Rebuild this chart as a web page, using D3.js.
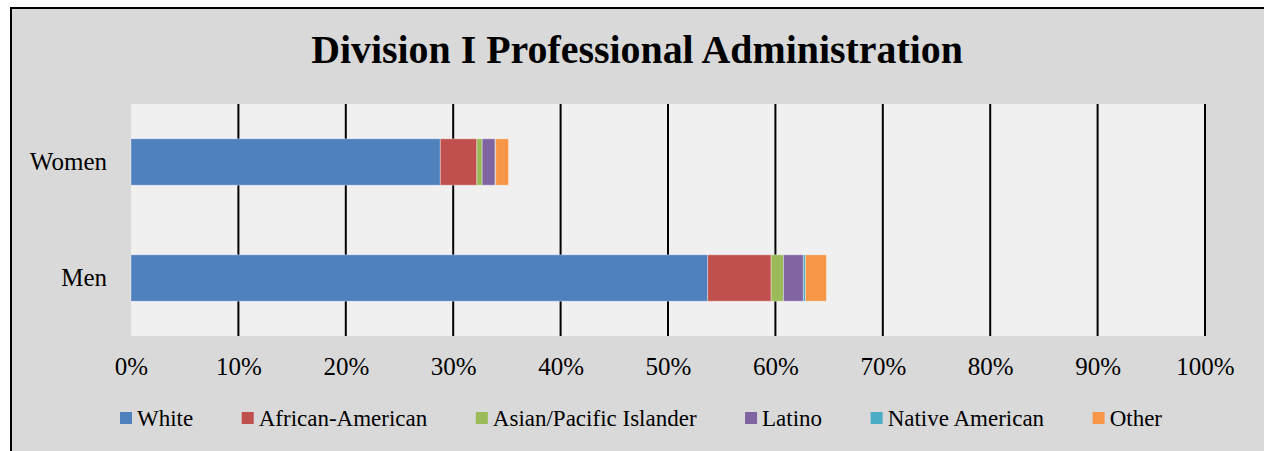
<!DOCTYPE html>
<html><head><meta charset="utf-8">
<script src="https://cdn.jsdelivr.net/npm/d3@7"></script>
<style>html,body{margin:0;padding:0;background:#fff;}svg{display:block;}</style>
</head><body>
<svg id="chart" width="1264" height="451"></svg>
<script>
const categories = ["Women", "Men"];
const seriesNames = ["White", "African-American", "Asian/Pacific Islander", "Latino", "Native American", "Other"];
const colors = ["#4F81BD", "#C0504D", "#9BBB59", "#8064A2", "#4BACC6", "#F79646"];
const white = [28.8, 53.7];
const africanAmerican = [3.4, 5.9];
const asianPacific = [0.5, 1.15];
const latino = [1.2, 1.85];
const nativeAmerican = [0.05, 0.2];
const other = [1.2, 1.95];
const tickValues = [0, 10, 20, 30, 40, 50, 60, 70, 80, 90, 100];
const title = "Division I Professional Administration";

const seriesValues = [white, africanAmerican, asianPacific, latino, nativeAmerican, other];
const rows = categories.map((c, i) => {
  const r = {category: c};
  seriesNames.forEach((s, j) => r[s] = seriesValues[j][i]);
  return r;
});
const stacked = d3.stack().keys(seriesNames)(rows);

const svg = d3.select("#chart");
const W = 1264, H = 451;
const serif = "'Liberation Serif', 'Times New Roman', serif";

// background
svg.append("rect").attr("x", 0).attr("y", 0).attr("width", W).attr("height", H).attr("fill", "#fff");
svg.append("rect").attr("x", 11).attr("y", 8).attr("width", W - 11).attr("height", H - 8).attr("fill", "#D9D9D9");
svg.append("line").attr("x1", 11).attr("x2", 11).attr("y1", 7).attr("y2", H).attr("stroke", "#000").attr("stroke-width", 2);
svg.append("line").attr("x1", 10).attr("x2", W).attr("y1", 8).attr("y2", 8).attr("stroke", "#000").attr("stroke-width", 2);

const plot = {left: 131, right: 1205, top: 104, bottom: 336};
const x = d3.scaleLinear().domain([0, 100]).range([plot.left, plot.right]);
const y = d3.scaleBand().domain(categories).range([plot.top, plot.bottom]).paddingInner(0.6).paddingOuter(0.3);

svg.append("rect").attr("x", plot.left).attr("y", plot.top)
  .attr("width", plot.right - plot.left).attr("height", plot.bottom - plot.top).attr("fill", "#F0F0F0");

// gridlines
svg.append("g").selectAll("line").data(tickValues.filter(t => t > 0)).join("line")
  .attr("x1", d => x(d)).attr("x2", d => x(d))
  .attr("y1", plot.top).attr("y2", plot.bottom)
  .attr("stroke", "#000").attr("stroke-width", 2);

// bars
svg.append("g").selectAll("g").data(stacked).join("g")
  .attr("fill", (d, i) => colors[i])
  .selectAll("rect").data(d => d).join("rect")
  .attr("x", d => x(d[0]))
  .attr("width", d => Math.max(0, x(d[1]) - x(d[0])))
  .attr("y", d => y(d.data.category))
  .attr("height", y.bandwidth())
  .attr("stroke", "rgba(255,255,255,0.35)").attr("stroke-width", 1);

// x axis labels
const xAxis = d3.axisBottom(x).tickValues(tickValues).tickFormat(d => d + "%").tickSize(0).tickPadding(0);
const gx = svg.append("g").attr("transform", `translate(0,${plot.bottom})`).call(xAxis);
gx.select(".domain").remove();
gx.selectAll("text").attr("font-family", serif).attr("font-size", 25).attr("fill", "#000")
  .attr("dy", null).attr("y", 39);

// y axis labels
const yAxis = d3.axisLeft(y).tickSize(0).tickPadding(24);
const gy = svg.append("g").attr("transform", `translate(${plot.left},0)`).call(yAxis);
gy.select(".domain").remove();
gy.selectAll("text").attr("font-family", serif).attr("font-size", 25).attr("fill", "#000").attr("dy", "0.33em");

// title
const t = svg.append("text").attr("x", 637).attr("y", 63).attr("text-anchor", "middle")
  .attr("font-family", serif).attr("font-weight", "bold").attr("font-size", 36).attr("fill", "#000").text(title);
const tw = t.node().getComputedTextLength();
t.attr("font-size", 36 * 652 / tw);

// legend
const leg = svg.append("g");
const fs = 23, sw = 12, gapText = 5;
const items = seriesNames.map((s, i) => {
  const g = leg.append("g");
  g.append("rect").attr("width", sw).attr("height", sw).attr("y", -14).attr("fill", colors[i]);
  const tx = g.append("text").attr("x", sw + gapText).attr("font-family", serif).attr("font-size", fs).attr("fill", "#000").text(s);
  return {g, w: sw + gapText + tx.node().getComputedTextLength()};
});
const totalW = 1162 - 120;
const sumW = d3.sum(items, d => d.w);
const gap = (totalW - sumW) / (items.length - 1);
let cx = 120;
items.forEach(it => { it.g.attr("transform", `translate(${cx},426)`); cx += it.w + gap; });
</script>
</body></html>
